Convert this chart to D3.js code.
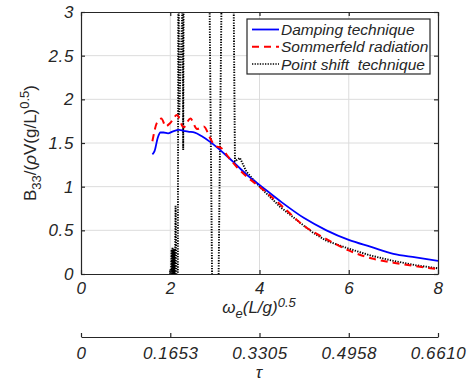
<!DOCTYPE html>
<html>
<head>
<meta charset="utf-8">
<script src="https://cdn.jsdelivr.net/npm/d3@7"></script>
<style>
body { margin: 0; background: #fff; }
text { font-family: "Liberation Sans", Arial, sans-serif; fill: #262626; }
</style>
</head>
<body>
<svg id="chart" width="471" height="381"></svg>
<script>
// x ticks / labels
var xTicks = [0, 2, 4, 6, 8];
var yTicks = [0, 0.5, 1, 1.5, 2, 2.5, 3];
var yTickLabels = ['0', '0.5', '1', '1.5', '2', '2.5', '3'];
var tauTicks = [0, 0.1653, 0.3305, 0.4958, 0.6610];
var tauLabels = ['0', '0.1653', '0.3305', '0.4958', '0.6610'];
var seriesNames = ['Damping technique', 'Sommerfeld radiation', 'Point shift  technique'];

// Damping technique
var dampX = [1.6, 1.65, 1.72, 1.78, 1.85, 1.95, 2.05, 2.2, 2.3, 2.4, 2.55, 2.7, 2.9, 3.0, 3.25, 3.5, 3.75, 4.0, 4.5, 5.0, 5.5, 6.0, 6.5, 7.0, 7.5, 8.0];
var dampY = [1.37, 1.41, 1.56, 1.62, 1.62, 1.61, 1.63, 1.65, 1.64, 1.63, 1.62, 1.58, 1.51, 1.47, 1.36, 1.24, 1.12, 1.02, 0.82, 0.64, 0.50, 0.39, 0.31, 0.23, 0.19, 0.15];

// Sommerfeld radiation
var sommX = [1.6, 1.7, 1.8, 1.9, 2.0, 2.15, 2.3, 2.45, 2.6, 2.75, 2.9, 3.0, 3.15, 3.3, 3.5, 3.75, 4.0, 4.5, 5.0, 5.5, 6.0, 6.5, 7.0, 7.5, 8.0];
var sommY = [1.52, 1.73, 1.78, 1.69, 1.73, 1.82, 1.68, 1.78, 1.66, 1.69, 1.55, 1.47, 1.44, 1.34, 1.22, 1.10, 1.00, 0.78, 0.55, 0.40, 0.27, 0.18, 0.13, 0.09, 0.055];

// Point shift technique (runs off the axes near the irregular frequencies)
var shiftX = [1.98, 2.0, 2.01, 2.03, 2.04, 2.05, 2.06, 2.07, 2.08, 2.09, 2.1, 2.12, 2.14, 2.17, 2.18, 2.19, 2.2, 2.28, 2.29, 2.30, 2.88, 2.94, 3.08, 3.15, 3.42, 3.45, 3.56, 3.71, 4.0, 4.46, 5.0, 5.21, 5.5, 6.0, 6.5, 7.0, 7.5, 8.0];
var shiftY = [-0.1, 0.05, -0.1, 0.28, -0.1, 0.30, -0.1, 0.27, -0.1, 0.29, -0.1, 0.78, -0.1, -0.1, 3.2, 3.2, 1.8, 3.2, 1.42, 3.2, 3.2, -0.2, -0.2, 3.2, 3.2, 1.29, 1.33, 1.17, 1.00, 0.77, 0.55, 0.47, 0.38, 0.29, 0.21, 0.15, 0.10, 0.065];

var svg = d3.select('#chart');
var pL = 81, pT = 12, pR = 438, pB = 274;
var axisColor = '#262626';

var x = d3.scaleLinear().domain([0, 8]).range([pL, pR]);
var y = d3.scaleLinear().domain([0, 3]).range([pB, pT]);
var tau = d3.scaleLinear().domain([0, 0.6610]).range([pL, pR]);

// grid
svg.append('g').selectAll('line').data(xTicks.slice(1, -1)).enter().append('line')
    .attr('x1', function (d) { return x(d); }).attr('x2', function (d) { return x(d); })
    .attr('y1', pT).attr('y2', pB)
    .attr('stroke', '#dcdcdc').attr('stroke-width', 1);
svg.append('g').selectAll('line').data(yTicks.slice(1, -1)).enter().append('line')
    .attr('y1', function (d) { return y(d); }).attr('y2', function (d) { return y(d); })
    .attr('x1', pL).attr('x2', pR)
    .attr('stroke', '#dcdcdc').attr('stroke-width', 1);

// clip to axes
svg.append('clipPath').attr('id', 'clip').append('rect')
    .attr('x', pL).attr('y', pT).attr('width', pR - pL).attr('height', pB - pT);

var line = d3.line()
    .x(function (d) { return x(d[0]); })
    .y(function (d) { return y(d[1]); });
var smooth = d3.line()
    .x(function (d) { return x(d[0]); })
    .y(function (d) { return y(d[1]); })
    .curve(d3.curveMonotoneX);

function pairs(xs, ys) {
    return xs.map(function (v, i) { return [v, ys[i]]; });
}

var plot = svg.append('g').attr('clip-path', 'url(#clip)');
plot.append('path').datum(pairs(shiftX, shiftY))
    .attr('d', line).attr('fill', 'none')
    .attr('stroke', '#000').attr('stroke-width', 1.9).attr('stroke-dasharray', '1.3,1.3');
plot.append('path').datum(pairs(dampX, dampY))
    .attr('d', smooth).attr('fill', 'none')
    .attr('stroke', '#0000ff').attr('stroke-width', 1.8);
plot.append('path').datum(pairs(sommX, sommY))
    .attr('d', smooth).attr('fill', 'none')
    .attr('stroke', '#ff0000').attr('stroke-width', 2).attr('stroke-dasharray', '7,5');

// axes (ticks inside, like matlab)
function styleAxis(g) {
    g.selectAll('path, line').attr('stroke', axisColor).attr('stroke-width', 1.2);
    g.selectAll('text').attr('fill', axisColor).style('font-size', '17px')
        .style('font-style', 'italic').style('letter-spacing', '0.6px');
}
svg.append('g').attr('transform', 'translate(0,' + pB + ')')
    .call(d3.axisBottom(x).tickValues(xTicks).tickSize(-4).tickSizeOuter(0).tickPadding(8))
    .call(styleAxis);
svg.append('g').attr('transform', 'translate(' + pL + ',0)')
    .call(d3.axisLeft(y).tickValues(yTicks).tickSize(-4).tickSizeOuter(0).tickPadding(7)
        .tickFormat(function (d, i) { return yTickLabels[i]; }))
    .call(styleAxis);
svg.append('g').attr('transform', 'translate(0,' + pT + ')')
    .call(d3.axisTop(x).tickValues(xTicks).tickSize(-4).tickSizeOuter(0).tickFormat(''))
    .call(styleAxis);
svg.append('g').attr('transform', 'translate(' + pR + ',0)')
    .call(d3.axisRight(y).tickValues(yTicks).tickSize(-4).tickSizeOuter(0).tickFormat(''))
    .call(styleAxis);

// second x axis for tau
svg.append('g').attr('transform', 'translate(0,337)')
    .call(d3.axisBottom(tau).tickValues(tauTicks).tickSize(-4).tickSizeOuter(0).tickPadding(10)
        .tickFormat(function (d, i) { return tauLabels[i]; }))
    .call(styleAxis);

// axis labels
var xl = svg.append('text').attr('x', 259).attr('y', 313).attr('text-anchor', 'middle')
    .style('font-size', '17px').style('font-style', 'italic');
xl.append('tspan').text('\u03c9');
xl.append('tspan').attr('dy', 5).style('font-size', '13px').text('e');
xl.append('tspan').attr('dy', -5).text('(L/g)');
xl.append('tspan').attr('dy', -6).style('font-size', '13px').text('0.5');

svg.append('text').attr('x', 259).attr('y', 378).attr('text-anchor', 'middle')
    .style('font-size', '17px').style('font-style', 'italic').text('\u03c4');

var yl = svg.append('text').attr('transform', 'translate(36,143) rotate(-90)')
    .attr('text-anchor', 'middle').style('font-size', '17px');
yl.append('tspan').text('B');
yl.append('tspan').attr('dy', 5).style('font-size', '13px').text('33');
yl.append('tspan').attr('dy', -5).text('/(');
yl.append('tspan').style('font-style', 'italic').text('\u03c1');
yl.append('tspan').text('V(g/L)');
yl.append('tspan').attr('dy', -7).style('font-size', '13px').text('0.5');
yl.append('tspan').attr('dy', 7).text(')');

// legend
var lg = svg.append('g');
lg.append('rect').attr('x', 247).attr('y', 19).attr('width', 183).attr('height', 55)
    .attr('fill', '#fff').attr('stroke', axisColor).attr('stroke-width', 1.2);
var legStyles = [
    { c: '#0000ff', w: 1.8, dash: null },
    { c: '#ff0000', w: 2, dash: '7,5' },
    { c: '#000', w: 1.5, dash: '1.3,1.3' }
];
var rows = lg.selectAll('g.row').data(seriesNames).enter().append('g')
    .attr('transform', function (d, i) { return 'translate(0,' + (29.5 + i * 17.3) + ')'; });
rows.append('line').attr('x1', 252).attr('x2', 279).attr('y1', 0).attr('y2', 0)
    .attr('stroke', function (d, i) { return legStyles[i].c; })
    .attr('stroke-width', function (d, i) { return legStyles[i].w; })
    .attr('stroke-dasharray', function (d, i) { return legStyles[i].dash; });
rows.append('text').attr('x', 281).attr('y', 5.5)
    .style('font-size', '15.5px').style('font-style', 'italic').style('white-space', 'pre')
    .text(function (d) { return d; });
</script>
</body>
</html>
